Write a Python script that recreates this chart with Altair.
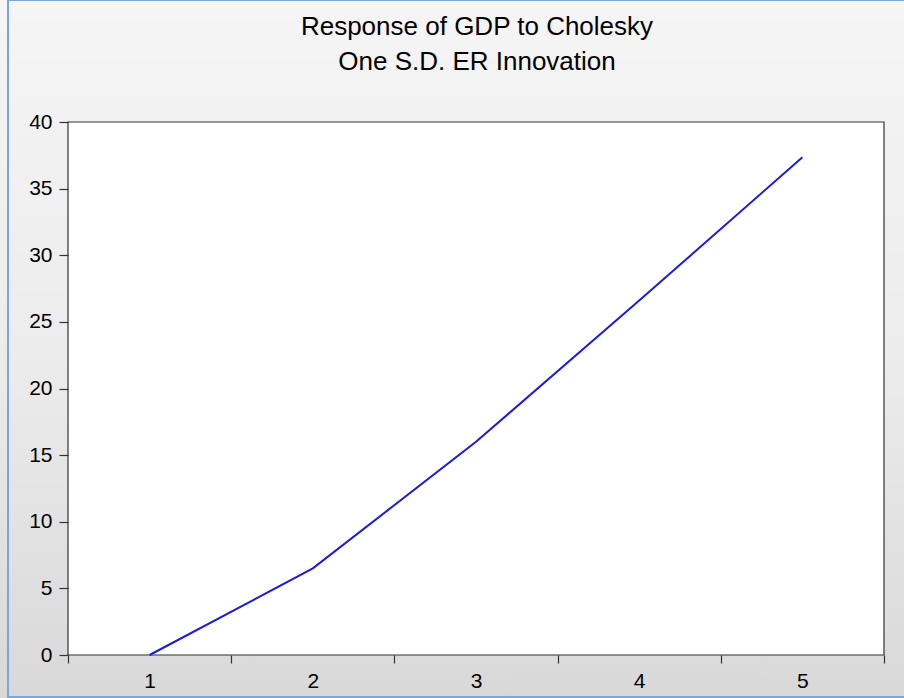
import altair as alt
import pandas as pd

# Impulse response values by period
periods = [1, 2, 3, 4, 5]
response = [0.0, 6.5, 16.0, 26.6, 37.35]
y_ticks = [0, 5, 10, 15, 20, 25, 30, 35, 40]
title_lines = ["Response of GDP to Cholesky", "One S.D. ER Innovation"]

W, H = 816, 533
PAD = {"left": 68, "top": 122, "right": 20, "bottom": 43}
FONT = "Liberation Sans"

df = pd.DataFrame({"period": periods, "response": response})
one = pd.DataFrame({"k": [0]})
heading = pd.DataFrame({"text": title_lines, "row": [0, 1]})

# window-style gradient backdrop behind the whole figure
backdrop = alt.Chart(one).mark_rect(
    fill=alt.Gradient(
        gradient="linear",
        stops=[
            alt.GradientStop(color="#f5f5f5", offset=0),
            alt.GradientStop(color="#ececec", offset=0.5),
            alt.GradientStop(color="#d8d8d8", offset=1),
        ],
        x1=0, x2=0, y1=0, y2=1,
    )
).encode(
    x=alt.value(-PAD["left"]), x2=alt.value(W + PAD["right"] + 10),
    y=alt.value(-PAD["top"]), y2=alt.value(H + PAD["bottom"] + 5),
)

# thin blue window edge
edge = alt.Chart(one).mark_rect(
    fillOpacity=0, stroke="#7ba6d9", strokeWidth=2
).encode(
    x=alt.value(-60), x2=alt.value(W + 60),
    y=alt.value(-PAD["top"]), y2=alt.value(H + 42),
)

# white plotting frame
frame = alt.Chart(one).mark_rect(
    fill="white", stroke="#333333", strokeWidth=1.2
).encode(
    x=alt.value(0), x2=alt.value(W), y=alt.value(0), y2=alt.value(H)
)

# two-line heading above the frame
title_top = alt.Chart(heading).transform_filter("datum.row == 0").mark_text(
    font=FONT, fontSize=26, color="black", baseline="middle", align="center"
).encode(text="text:N", x=alt.value(W / 2 + 1), y=alt.value(-95))
title_bottom = alt.Chart(heading).transform_filter("datum.row == 1").mark_text(
    font=FONT, fontSize=26, color="black", baseline="middle", align="center"
).encode(text="text:N", x=alt.value(W / 2 + 1), y=alt.value(-60))

line = alt.Chart(df).mark_line(color="#1a1ae6", strokeWidth=2).encode(
    x=alt.X(
        "period:O",
        bandPosition=0.5,
        scale=alt.Scale(type="band", paddingInner=0, paddingOuter=0),
        axis=alt.Axis(title=None, labelAngle=0, tickBand="extent", zindex=1),
    ),
    y=alt.Y(
        "response:Q",
        scale=alt.Scale(domain=[0, 40], nice=False, zero=True),
        axis=alt.Axis(title=None, values=y_ticks, zindex=1),
    ),
)

chart = alt.layer(backdrop, edge, frame, title_top, title_bottom, line).properties(
    width=W,
    height=H,
    padding=PAD,
    autosize="none",
).configure_view(
    stroke=None
).configure_axis(
    domain=False, grid=False, tickColor="#333333", tickWidth=1.2,
    labelFont=FONT, labelFontSize=21, labelColor="black",
).configure_axisX(
    tickSize=8, labelPadding=7,
).configure_axisY(
    tickSize=9, labelPadding=7,
)

chart.save("out.html", embed_options={"renderer": "svg", "actions": False})
